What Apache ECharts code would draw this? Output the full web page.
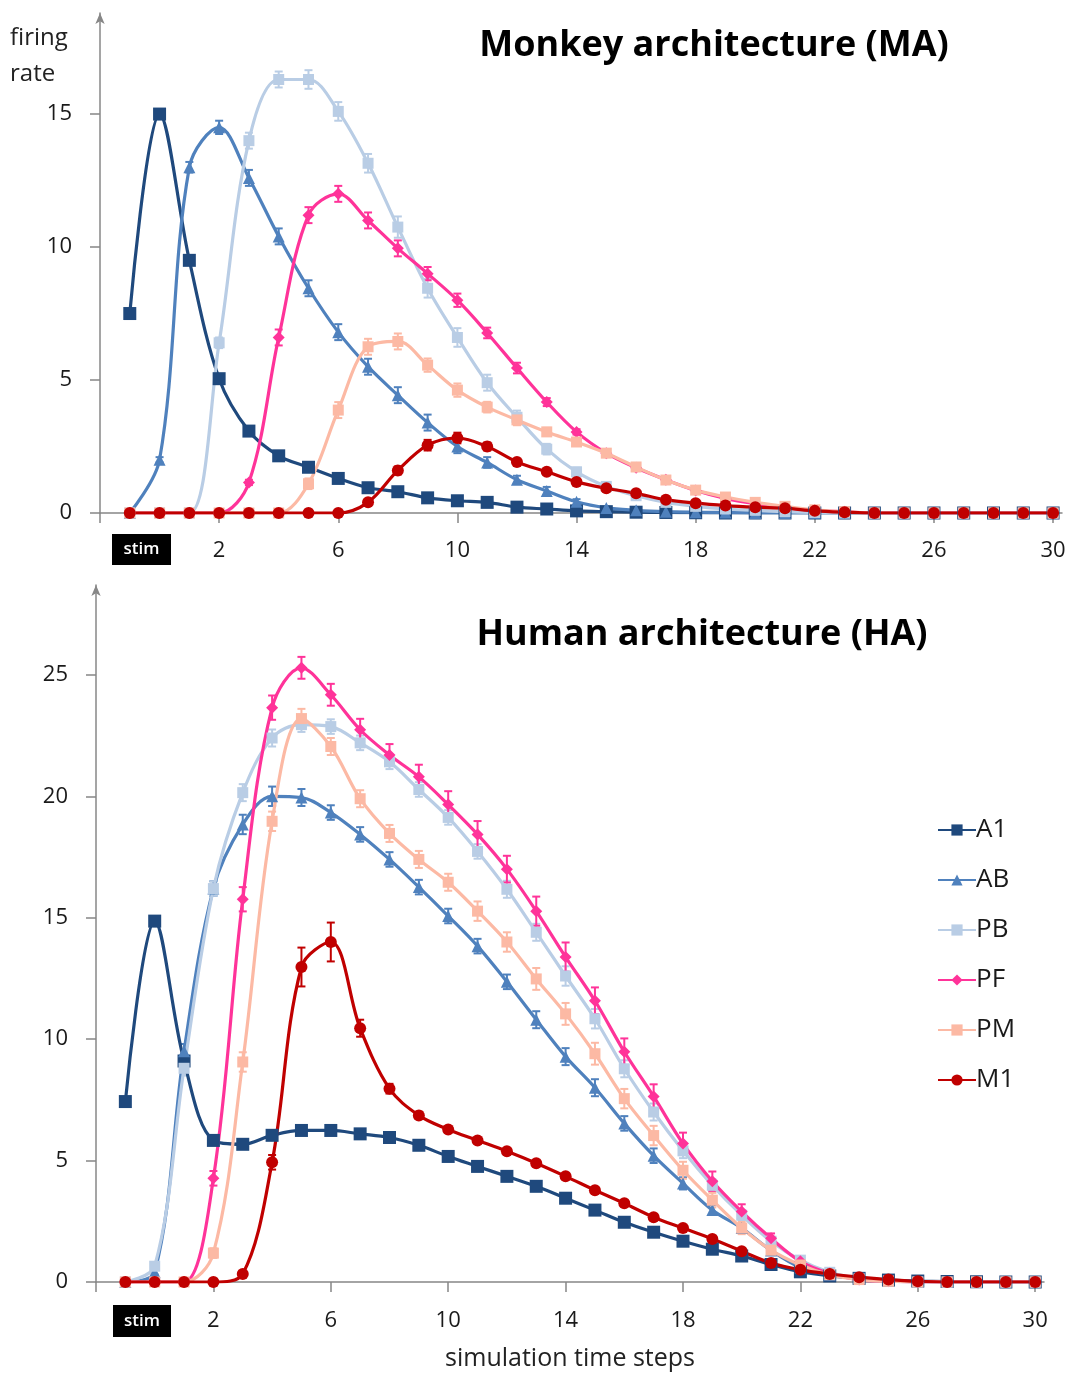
<!DOCTYPE html>
<html>
<head>
<meta charset="utf-8">
<script src="https://cdn.jsdelivr.net/npm/echarts@6/dist/echarts.min.js"></script>
<style>html,body{margin:0;padding:0;background:#fff}#c{width:1073px;height:1376px}</style>
</head>
<body>
<div id="c"></div>
<script>
// time steps (x = -1 is the stimulus step)
const steps = [-1,0,1,2,3,4,5,6,7,8,9,10,11,12,13,14,15,16,17,18,19,20,21,22,23,24,25,26,27,28,29,30];
const xTickValues = [-2,2,6,10,14,18,22,26,30];
const xLabelValues = [2,6,10,14,18,22,26,30];
const yTicksMA = [0,5,10,15];
const yTicksHA = [0,5,10,15,20,25];
const seriesNames = ['A1','AB','PB','PF','PM','M1'];

// Monkey architecture (MA)
const A1_MA = [7.5,15.0,9.5,5.05,3.08,2.15,1.72,1.3,0.95,0.8,0.57,0.46,0.4,0.22,0.15,0.08,0.05,0.03,0.02,0.01,0,0,0,0,0,0,0,0,0,0,0,0];
const AB_MA = [0,2.0,13.0,14.5,12.6,10.4,8.45,6.8,5.5,4.43,3.4,2.5,1.9,1.25,0.83,0.42,0.19,0.1,0.05,0.03,0.02,0,0,0,0,0,0,0,0,0,0,0];
const PB_MA = [0,0,0,6.4,14.0,16.3,16.3,15.1,13.15,10.75,8.45,6.6,4.9,3.6,2.4,1.55,1.0,0.65,0.4,0.25,0.15,0.1,0.05,0.02,0,0,0,0,0,0,0,0];
const PF_MA = [0,0,0,0,1.15,6.6,11.2,12.0,11.0,9.95,9.0,8.0,6.77,5.45,4.17,3.05,2.25,1.7,1.25,0.85,0.55,0.35,0.2,0.1,0.05,0,0,0,0,0,0,0];
const PM_MA = [0,0,0,0,0,0,1.1,3.87,6.25,6.45,5.56,4.62,3.98,3.5,3.05,2.67,2.25,1.73,1.24,0.86,0.6,0.4,0.25,0.12,0.05,0,0,0,0,0,0,0];
const M1_MA = [0,0,0,0,0,0,0,0,0.4,1.6,2.55,2.82,2.5,1.92,1.55,1.17,0.93,0.74,0.5,0.37,0.28,0.22,0.18,0.08,0.03,0,0,0,0,0,0,0];
// error bar half-lengths (MA)
const A1_MA_err = [0,0,0,0,0,0,0,0,0,0,0,0,0,0,0,0,0,0,0,0,0,0,0,0,0,0,0,0,0,0,0,0];
const AB_MA_err = [0,0.1,0.2,0.25,0.3,0.3,0.3,0.3,0.3,0.3,0.3,0.25,0.2,0.15,0.15,0.1,0.05,0,0,0,0,0,0,0,0,0,0,0,0,0,0,0];
const PB_MA_err = [0,0,0,0.2,0.3,0.3,0.35,0.35,0.35,0.4,0.35,0.35,0.3,0.25,0.2,0.15,0.1,0.05,0,0,0,0,0,0,0,0,0,0,0,0,0,0];
const PF_MA_err = [0,0,0,0,0.1,0.3,0.3,0.3,0.3,0.3,0.25,0.25,0.2,0.2,0.15,0.1,0.1,0.05,0.05,0,0,0,0,0,0,0,0,0,0,0,0,0];
const PM_MA_err = [0,0,0,0,0,0,0.2,0.3,0.3,0.3,0.25,0.25,0.2,0.2,0.15,0.15,0.1,0.1,0.05,0.05,0,0,0,0,0,0,0,0,0,0,0,0];
const M1_MA_err = [0,0,0,0,0,0,0,0,0.05,0.15,0.2,0.2,0.15,0.1,0.1,0.05,0.05,0,0,0,0,0,0,0,0,0,0,0,0,0,0,0];

// Human architecture (HA)
const A1_HA = [7.43,14.86,9.1,5.83,5.67,6.04,6.24,6.24,6.1,5.95,5.63,5.17,4.76,4.35,3.94,3.45,2.96,2.46,2.05,1.68,1.35,1.07,0.72,0.42,0.25,0.15,0.08,0.04,0.02,0.01,0,0];
const AB_HA = [0,0.4,9.5,16.2,18.84,20.0,19.95,19.33,18.43,17.4,16.26,15.07,13.83,12.36,10.8,9.28,8.0,6.53,5.2,4.06,2.96,2.22,1.3,0.6,0.3,0.15,0.05,0.02,0,0,0,0];
const PB_HA = [0,0.65,8.8,16.2,20.15,22.4,22.95,22.87,22.2,21.42,20.28,19.13,17.73,16.17,14.4,12.6,10.84,8.78,7.0,5.4,3.98,2.75,1.68,0.9,0.4,0.15,0.05,0,0,0,0,0];
const PF_HA = [0,0,0,4.27,15.76,23.65,25.29,24.18,22.74,21.7,20.8,19.66,18.43,17.0,15.27,13.38,11.58,9.48,7.64,5.7,4.15,2.9,1.8,0.85,0.35,0.1,0.03,0,0,0,0,0];
const PM_HA = [0,0,0,1.19,9.06,18.97,23.2,22.05,19.9,18.47,17.4,16.46,15.27,14.0,12.48,11.04,9.4,7.55,6.03,4.6,3.37,2.22,1.31,0.7,0.3,0.1,0.03,0,0,0,0,0];
const M1_HA = [0,0,0,0,0.33,4.93,12.97,14.0,10.45,7.96,6.86,6.28,5.83,5.38,4.89,4.35,3.78,3.24,2.67,2.22,1.77,1.27,0.78,0.5,0.33,0.2,0.1,0.03,0,0,0,0];
// error bar half-lengths (HA)
const A1_HA_err = [0,0,0,0,0,0,0,0,0,0,0,0,0,0,0,0,0,0,0,0,0,0,0,0,0,0,0,0,0,0,0,0];
const AB_HA_err = [0,0.1,0.3,0.3,0.4,0.4,0.35,0.3,0.3,0.3,0.3,0.3,0.3,0.3,0.35,0.35,0.35,0.3,0.3,0.25,0.2,0.15,0.1,0,0,0,0,0,0,0,0,0];
const PB_HA_err = [0,0.1,0.3,0.3,0.35,0.35,0.3,0.3,0.3,0.3,0.3,0.3,0.3,0.35,0.35,0.4,0.4,0.35,0.35,0.3,0.25,0.2,0.15,0.1,0,0,0,0,0,0,0,0];
const PF_HA_err = [0,0,0,0.3,0.5,0.5,0.45,0.45,0.45,0.45,0.5,0.55,0.55,0.55,0.6,0.6,0.55,0.55,0.5,0.45,0.4,0.3,0.2,0.1,0,0,0,0,0,0,0,0];
const PM_HA_err = [0,0,0,0.2,0.4,0.4,0.4,0.35,0.35,0.35,0.35,0.35,0.4,0.4,0.45,0.45,0.45,0.4,0.4,0.35,0.3,0.25,0.2,0.1,0,0,0,0,0,0,0,0];
const M1_HA_err = [0,0,0,0,0.1,0.3,0.8,0.8,0.35,0.2,0.15,0.1,0.1,0.1,0.1,0.1,0.1,0.05,0.05,0.05,0,0,0,0,0,0,0,0,0,0,0,0];

const colors = {A1:'#1F497D', AB:'#4F81BD', PB:'#B9CDE5', PF:'#FF3399', PM:'#FCB9A4', M1:'#C00000'};
const symbols = {A1:'rect', AB:'triangle', PB:'rect', PF:'diamond', PM:'rect', M1:'circle'};
const symSizes = {A1:13, AB:12, PB:11, PF:12, PM:11, M1:12};

const MA = {A1:[A1_MA,A1_MA_err], AB:[AB_MA,AB_MA_err], PB:[PB_MA,PB_MA_err], PF:[PF_MA,PF_MA_err], PM:[PM_MA,PM_MA_err], M1:[M1_MA,M1_MA_err]};
const HA = {A1:[A1_HA,A1_HA_err], AB:[AB_HA,AB_HA_err], PB:[PB_HA,PB_HA_err], PF:[PF_HA,PF_HA_err], PM:[PM_HA,PM_HA_err], M1:[M1_HA,M1_HA_err]};

const FONT = '"Open Sans", sans-serif';
const axisColor = '#878787';
const labelColor = '#1a1a1a';

function lineSeries(name, vals, gi) {
  return {
    name, type:'line', xAxisIndex:gi, yAxisIndex:gi,
    data: steps.map((x,i)=>[x, vals[i]]),
    smooth: 0.35, symbol: symbols[name], symbolSize: symSizes[name],
    lineStyle:{color:colors[name], width:3.2},
    itemStyle:{color:colors[name]},
    emphasis:{disabled:true}, animation:false, z:3
  };
}
function errSeries(name, vals, errs, gi) {
  const data = [];
  steps.forEach((x,i)=>{ if (errs[i] > 0) data.push([x, vals[i]-errs[i], vals[i]+errs[i]]); });
  const c = colors[name];
  return {
    type:'custom', xAxisIndex:gi, yAxisIndex:gi, data, silent:true, z:3, animation:false,
    encode:{x:0, y:[1,2]},
    renderItem(params, api) {
      const x = api.value(0);
      const lo = api.coord([x, api.value(1)]);
      const hi = api.coord([x, api.value(2)]);
      const w = 4;
      const st = {stroke:c, lineWidth:2};
      return {type:'group', children:[
        {type:'line', shape:{x1:lo[0],y1:lo[1],x2:hi[0],y2:hi[1]}, style:st},
        {type:'line', shape:{x1:lo[0]-w,y1:lo[1],x2:lo[0]+w,y2:lo[1]}, style:st},
        {type:'line', shape:{x1:hi[0]-w,y1:hi[1],x2:hi[0]+w,y2:hi[1]}, style:st}
      ]};
    }
  };
}

const series = [];
[[MA,0],[HA,1]].forEach(([set,gi])=>{
  seriesNames.forEach(n=>{
    series.push(errSeries(n, set[n][0], set[n][1], gi));
    series.push(lineSeries(n, set[n][0], gi));
  });
});

function xAxis(gi, name) {
  return {
    type:'value', gridIndex:gi, min:-2, max:30.3,
    axisLine:{show:true, onZero:false, lineStyle:{color:axisColor, width:1.5}},
    axisTick:{show:true, length:10, inside:false, customValues:xTickValues, lineStyle:{color:axisColor, width:1.5}},
    axisLabel:{customValues:xLabelValues, fontSize:22, color:labelColor, fontFamily:FONT, margin: gi === 0 ? 27 : 28},
    splitLine:{show:false},
    name: name || '', nameLocation:'middle', nameGap:64,
    nameTextStyle:{fontSize:25, color:'#222', fontFamily:FONT}
  };
}
function yAxis(gi, max, ticks) {
  return {
    type:'value', gridIndex:gi, min:0, max,
    axisLine:{show:true, onZero:false, symbol:['none','arrow'], symbolSize:[7,11], lineStyle:{color:axisColor, width:1.5}},
    axisTick:{show:true, length:10, customValues:ticks, lineStyle:{color:axisColor, width:1.5}},
    axisLabel:{customValues:ticks, fontSize:22, color:labelColor, fontFamily:FONT, margin:28},
    splitLine:{show:false}
  };
}

const chart = echarts.init(document.getElementById('c'), null, {renderer:'canvas'});
chart.setOption({
  backgroundColor:'#ffffff',
  animation:false,
  grid:[
    {left:100, top:13, width:962, height:500},
    {left:96, top:585, width:948, height:699}
  ],
  xAxis:[xAxis(0), xAxis(1, 'simulation time steps')],
  yAxis:[yAxis(0, 18.8, yTicksMA), yAxis(1, 28.7, yTicksHA)],
  legend:{
    data: seriesNames, orient:'vertical', left:932, top:812,
    itemWidth:38, itemHeight:14, itemGap:24,
    textStyle:{fontSize:26, color:'#1a1a1a', fontFamily:FONT, padding:[0,0,0,-5]},
    selectedMode:false
  },
  graphic:[
    {type:'text', left:10, top:20, style:{text:'firing\nrate', font:'24px '+FONT, fill:'#222', lineHeight:36}},
    {type:'text', x:714, y:46, style:{text:'Monkey architecture (MA)', font:'bold 36px '+FONT, fill:'#000', textAlign:'center', textVerticalAlign:'middle'}},
    {type:'text', x:702, y:635, style:{text:'Human architecture (HA)', font:'bold 36px '+FONT, fill:'#000', textAlign:'center', textVerticalAlign:'middle'}},
    {type:'group', left:112, top:534, children:[
      {type:'rect', shape:{x:0,y:0,width:59,height:31}, style:{fill:'#000'}},
      {type:'text', x:29.5, y:15.5, style:{text:'stim', font:'600 17px '+FONT, fill:'#fff', textAlign:'center', textVerticalAlign:'middle'}}
    ]},
    {type:'group', left:113, top:1305, children:[
      {type:'rect', shape:{x:0,y:0,width:58,height:32}, style:{fill:'#000'}},
      {type:'text', x:29, y:16, style:{text:'stim', font:'600 17px '+FONT, fill:'#fff', textAlign:'center', textVerticalAlign:'middle'}}
    ]}
  ],
  series
});
</script>
</body>
</html>
